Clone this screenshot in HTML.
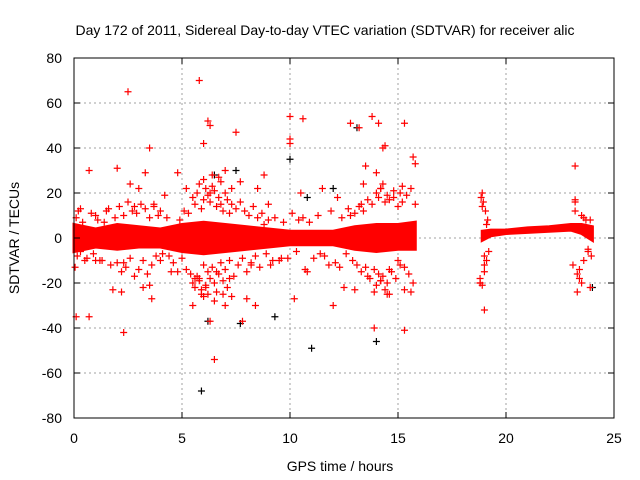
<!DOCTYPE html>
<html><head><meta charset="utf-8"><style>
body{margin:0;background:#fff}
svg{display:block;font-family:"Liberation Sans",sans-serif}
</style></head><body>
<svg id="chart" width="640" height="480" viewBox="0 0 640 480">
<rect width="640" height="480" fill="#fff"/>
<text x="325" y="35" font-size="14" text-anchor="middle" fill="#000">Day 172 of 2011, Sidereal Day-to-day VTEC variation (SDTVAR) for receiver alic</text>
<g id="grid"></g>
<g id="band"></g>
<g id="marks"></g>
<rect x="74" y="58" width="540" height="360" fill="none" stroke="#000" stroke-width="1"/>
<g id="ticks"></g>
<text x="340" y="471" font-size="14" text-anchor="middle">GPS time / hours</text>
<text x="0" y="0" font-size="14" text-anchor="middle" transform="translate(19,238) rotate(-90)">SDTVAR / TECUs</text>
</svg>
<script>
const xTicks=[0,5,10,15,20,25];
const yTicks=[80,60,40,20,0,-20,-40,-60,-80];
const bandX=[0,0.5,1,2,3,4,5,6,7,8,9,10,11,12,13,14,15,15.8];
const bandLo=[-6,-5,-4,-5,-4,-4,-6,-7,-6,-5,-4,-3,-3,-3,-5,-6,-5,-5];
const bandHi=[6,5,4,6,5,4,6,7,6,5,4,3,3,3,5,6,6,7];
const band2X=[18.9,19.3,20,21,22,23,23.5,24];
const band2Lo=[-1,1,2,2.5,3,3.5,2,-1];
const band2Hi=[3,3.5,3.5,4.5,5,6,6,5];
const redX=[2.5,5.8,3.5,2.3,6.5,7.5,10,10.6,13.8,14.1,13.2,12.8,15.3,15.3,13.9,7.8,6.3,5.5,0.1,0.7,0.7,2.0,2.2,1.8,3.5,4.8,6,6.2,6.3,8.8,10,10,14.4,14.3,13.5,14,15.7,15.8,18.9,19,18.8,19,23.2,23.3,23.5,23.9,23.2,8,8.4,10.2,12,12.5,13,14.5,15.3,15.6,4,3,3.3,4.2,4.8,5.2,6.8,7.3,7.7,8.5,9,10.5,11.5,12.2,12.8,13.3,14.2,14.8,15.2,1,1.5,2.8,4.5,5.6,6.6,7.2,8.2,9.2,10.8,11.8,12.3,13.6,14.6,15,6.1,5.9,6.9,7,6.4,3.7,1.2,0.3,0.5];
const redY=[65,70,40,-42,-54,47,54,53,54,51,49,51,51,-41,-40,-37,-37,-30,-35,-35,30,31,-24,-23,-21,-15,42,52,50,28,42,44,41,40,32,29,36,33,20,-32,-20,-8,32,-24,-20,-22,17,-27,-30,-27,-30,-22,-23,-25,-23,-24,-10,22,29,19,29,22,15,22,25,22,15,20,22,18,10,15,22,18,23,10,12,14,-15,-18,-15,-18,-12,-10,-15,-12,-13,-17,-14,-10,-22,-25,-25,30,28,15,-10,13,-10];
const noiseX=[0.05,0.1,0.15,0.2,0.3,0.4,0.6,0.8,0.9,1.1,1.3,1.6,1.7,1.9,2.0,2.1,2.2,2.3,2.4,2.5,2.6,2.7,2.8,2.9,3.0,3.1,3.2,3.3,3.4,3.5,3.6,3.7,3.8,3.9,4.1,4.3,4.6,4.9,5.0,5.1,5.2,5.3,5.4,5.5,5.5,5.6,5.6,5.7,5.7,5.8,5.8,5.9,5.9,6.0,6.0,6.0,6.1,6.1,6.2,6.2,6.2,6.3,6.3,6.4,6.4,6.5,6.5,6.6,6.6,6.7,6.7,6.8,6.8,6.9,6.9,7.0,7.0,7.1,7.1,7.2,7.2,7.3,7.4,7.5,7.6,7.7,7.8,7.9,8.0,8.1,8.2,8.3,8.4,8.5,8.6,8.7,8.9,9.0,9.1,9.3,9.5,9.7,9.9,10.1,10.3,10.4,10.7,10.9,11.1,11.3,11.6,11.9,12.1,12.4,12.6,12.7,12.9,13.0,13.1,13.2,13.3,13.4,13.5,13.6,13.7,13.8,13.9,14.0,14.0,14.1,14.1,14.2,14.2,14.3,14.3,14.4,14.4,14.5,14.5,14.6,14.7,14.8,14.9,15.0,15.1,15.2,15.3,15.4,15.5,15.6,15.7,15.8,2.3,2.6,3.2,3.6,5.8,6.0,6.3,6.5,6.7,7.0,7.3,13.4,13.9,14.2,14.6,15.1,18.8,18.85,18.9,18.95,19.0,19.05,19.1,19.15,19.2,18.8,18.9,19.0,19.1,23.1,23.2,23.3,23.4,23.5,23.6,23.7,23.8,23.9,23.95,23.2,23.4,23.6,23.8,1.0,1.4,4.0,4.4,8.8,9.6,10.6,11.4,12.2,12.9];
const noiseY=[-13,9,-8,12,-6,7,-9,11,-7,8,-10,13,-12,9,-11,14,-15,10,-13,16,-9,12,-17,11,-14,15,-10,13,-16,9,-12,14,-8,10,-7,9,-11,8,-9,12,-14,11,-16,18,-20,15,-22,20,-17,24,-19,13,-23,26,-12,17,-21,22,-15,19,-25,16,-18,23,-13,21,-20,14,-24,18,-16,25,-11,12,-19,20,-14,17,-22,11,-10,15,-17,13,-12,16,-9,12,-15,10,-11,14,-8,9,-13,11,-7,8,-12,9,-10,7,-9,11,-6,8,-14,7,-9,10,-8,12,-11,9,-7,13,-10,11,-12,14,-15,12,-13,17,-18,15,-14,20,-21,18,-16,22,-19,24,-17,16,-23,19,-20,17,-15,21,-18,14,-12,16,-13,19,-16,22,-20,15,-11,24,-22,-27,-18,-26,20,-28,27,-30,-26,24,-24,-19,-25,20,-20,18,-21,16,-15,12,-10,8,-6,-18,14,-12,6,-12,12,-16,-18,10,-10,8,-5,8,-8,16,-14,9,-6,-10,7,12,-8,6,-9,9,-7];
const blackX=[5.9,6.2,7.7,10,11,14,13.1,24,9.3,12,7.5,10.8,6.5];
const blackY=[-68,-37,-38,35,-49,-46,49,-22,-35,22,30,18,28];
const NS='http://www.w3.org/2000/svg';
const L=74,R=614,T=58,B=418;
const sx=v=>L+(v-0)/(25-0)*(R-L);
const sy=v=>B-(v+80)/160*(B-T);
function el(t,a,p){const e=document.createElementNS(NS,t);for(const k in a)e.setAttribute(k,a[k]);p.appendChild(e);return e;}
const grid=document.getElementById('grid'),ticks=document.getElementById('ticks');
xTicks.forEach(v=>{
  const x=sx(v);
  if(v>0&&v<25){const g=el('line',{x1:x,x2:x,y1:T,y2:B,stroke:'#a0a0a0','stroke-dasharray':'2,3'},grid);
  
  }
  el('line',{x1:x,x2:x,y1:B,y2:B-6,stroke:'#000'},ticks);
  el('line',{x1:x,x2:x,y1:T,y2:T+6,stroke:'#000'},ticks);
  const t=el('text',{x:x,y:443,'font-size':14,'text-anchor':'middle'},ticks);t.textContent=v;
  
  
});
yTicks.forEach(v=>{
  const y=sy(v);
  if(v>-80&&v<80){const g=el('line',{x1:L,x2:R,y1:y,y2:y,stroke:'#a0a0a0','stroke-dasharray':'2,3'},grid);
  
  }
  el('line',{x1:L,x2:L+6,y1:y,y2:y,stroke:'#000'},ticks);
  el('line',{x1:R,x2:R-6,y1:y,y2:y,stroke:'#000'},ticks);
  const t=el('text',{x:62,y:y+5,'font-size':14,'text-anchor':'end'},ticks);t.textContent=v;
  
  
});
const band=document.getElementById('band');
function drawBand(xs,lo,hi,name){
  let d='M'+xs.map((x,i)=>sx(x)+','+sy(hi[i])).join(' L');
  d+=' L'+xs.slice().reverse().map((x,i)=>sx(x)+','+sy(lo[xs.length-1-i])).join(' L')+' Z';
  const p=el('path',{d:d,fill:'#ff0000',stroke:'#ff0000','stroke-width':3},band);
  
  
}
drawBand(bandX,bandLo,bandHi,'dense-band-day');
drawBand(band2X,band2Lo,band2Hi,'dense-band-late');
const marks=document.getElementById('marks');
function plus(x,y,c,name){
  const X=sx(x),Y=sy(y);
  const p=el('path',{d:`M${X-3.5},${Y}H${X+3.5}M${X},${Y-3.5}V${Y+3.5}`,stroke:c,'stroke-width':1.2,fill:'none'},marks);
  
  
}
blackX.forEach((x,i)=>plus(x,blackY[i],'#000','black-point'));
redX.forEach((x,i)=>plus(x,redY[i],'#ff0000','red-point'));
noiseX.forEach((x,i)=>plus(x,noiseY[i],'#ff0000','red-noise-point'));
</script>
</body></html>
